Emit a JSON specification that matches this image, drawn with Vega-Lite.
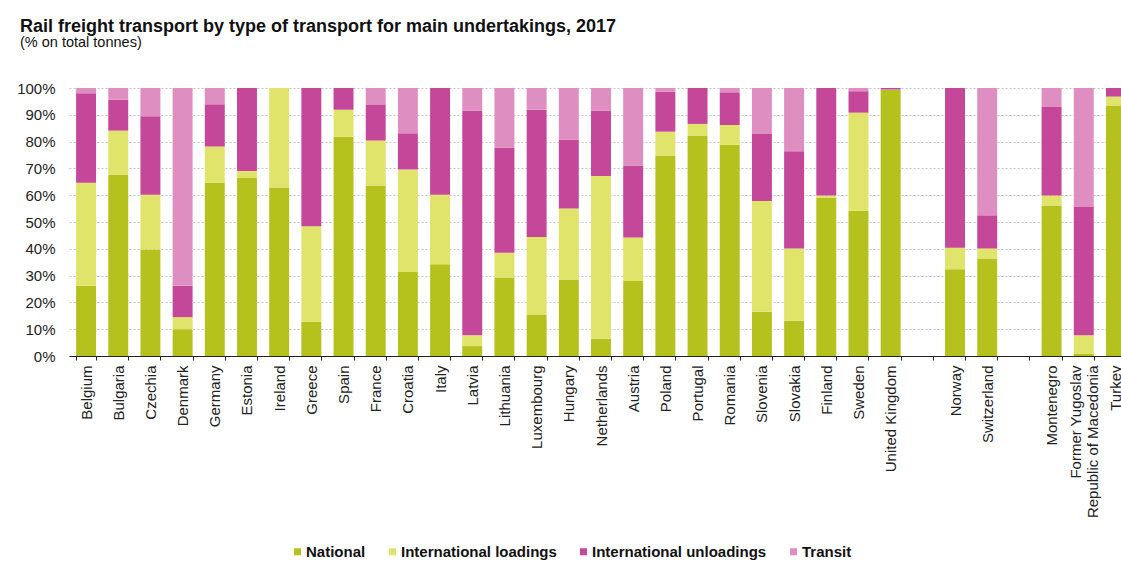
{
  "$schema": "https://vega.github.io/schema/vega-lite/v6.json",
  "width": 1052,
  "height": 268,
  "autosize": {"type": "none"},
  "padding": {"left": 69, "top": 88, "right": 0, "bottom": 215},
  "background": "white",
  "title": {
    "text": "Rail freight transport by type of transport for main undertakings, 2017",
    "subtitle": "(% on total tonnes)",
    "anchor": "start",
    "frame": "group",
    "dx": -49,
    "offset": 31.5,
    "font": "Liberation Sans",
    "fontSize": 18,
    "fontWeight": "bold",
    "color": "#111",
    "subtitleFont": "Liberation Sans",
    "subtitleFontSize": 14.5,
    "subtitleColor": "#111",
    "subtitlePadding": 0
  },
  "data": {
    "values": [
      {"country": "Belgium", "National": 26.2, "International loadings": 38.4, "International unloadings": 33.4, "Transit": 2.0},
      {"country": "Bulgaria", "National": 67.6, "International loadings": 16.5, "International unloadings": 11.6, "Transit": 4.3},
      {"country": "Czechia", "National": 39.7, "International loadings": 20.5, "International unloadings": 29.3, "Transit": 10.5},
      {"country": "Denmark", "National": 10.0, "International loadings": 4.5, "International unloadings": 11.7, "Transit": 73.8},
      {"country": "Germany", "National": 64.6, "International loadings": 13.6, "International unloadings": 15.7, "Transit": 6.1},
      {"country": "Estonia", "National": 66.4, "International loadings": 2.6, "International unloadings": 31.0, "Transit": 0},
      {"country": "Ireland", "National": 62.9, "International loadings": 37.1, "International unloadings": 0, "Transit": 0},
      {"country": "Greece", "National": 12.8, "International loadings": 35.6, "International unloadings": 51.6, "Transit": 0},
      {"country": "Spain", "National": 81.8, "International loadings": 10.1, "International unloadings": 8.1, "Transit": 0},
      {"country": "France", "National": 63.6, "International loadings": 16.8, "International unloadings": 13.5, "Transit": 6.1},
      {"country": "Croatia", "National": 31.3, "International loadings": 38.3, "International unloadings": 13.5, "Transit": 16.9},
      {"country": "Italy", "National": 34.2, "International loadings": 26.0, "International unloadings": 39.8, "Transit": 0},
      {"country": "Latvia", "National": 3.7, "International loadings": 4.0, "International unloadings": 83.9, "Transit": 8.4},
      {"country": "Lithuania", "National": 29.3, "International loadings": 9.2, "International unloadings": 39.3, "Transit": 22.2},
      {"country": "Luxembourg", "National": 15.5, "International loadings": 28.9, "International unloadings": 47.5, "Transit": 8.1},
      {"country": "Hungary", "National": 28.5, "International loadings": 26.5, "International unloadings": 25.8, "Transit": 19.2},
      {"country": "Netherlands", "National": 6.5, "International loadings": 60.7, "International unloadings": 24.4, "Transit": 8.4},
      {"country": "Austria", "National": 28.0, "International loadings": 16.2, "International unloadings": 26.9, "Transit": 28.9},
      {"country": "Poland", "National": 74.8, "International loadings": 8.9, "International unloadings": 14.9, "Transit": 1.4},
      {"country": "Portugal", "National": 82.3, "International loadings": 4.3, "International unloadings": 13.4, "Transit": 0},
      {"country": "Romania", "National": 78.8, "International loadings": 7.4, "International unloadings": 12.2, "Transit": 1.6},
      {"country": "Slovenia", "National": 16.5, "International loadings": 41.3, "International unloadings": 25.0, "Transit": 17.2},
      {"country": "Slovakia", "National": 13.2, "International loadings": 26.9, "International unloadings": 36.3, "Transit": 23.6},
      {"country": "Finland", "National": 59.1, "International loadings": 0.8, "International unloadings": 40.1, "Transit": 0},
      {"country": "Sweden", "National": 54.2, "International loadings": 36.6, "International unloadings": 8.0, "Transit": 1.2},
      {"country": "United Kingdom", "National": 99.3, "International loadings": 0.1, "International unloadings": 0.6, "Transit": 0},
      {"country": "Norway", "National": 32.4, "International loadings": 8.0, "International unloadings": 59.6, "Transit": 0},
      {"country": "Switzerland", "National": 36.4, "International loadings": 3.7, "International unloadings": 12.4, "Transit": 47.5},
      {"country": "Montenegro", "National": 56.2, "International loadings": 3.7, "International unloadings": 33.0, "Transit": 7.1},
      {"country": "Former Yugoslav Republic of Macedonia", "National": 0.7, "International loadings": 7.0, "International unloadings": 47.9, "Transit": 44.4},
      {"country": "Turkey", "National": 93.5, "International loadings": 3.3, "International unloadings": 3.2, "Transit": 0}
    ]
  },
  "transform": [
    {"fold": ["National", "International loadings", "International unloadings", "Transit"], "as": ["type", "value"]},
    {"calculate": "indexof(['National', 'International loadings', 'International unloadings', 'Transit'], datum.type)", "as": "stackOrder"}
  ],
  "mark": {"type": "bar", "clip": true},
  "encoding": {
    "x": {
      "field": "country",
      "type": "nominal",
      "sort": null,
      "scale": {
        "domain": ["Belgium", "Bulgaria", "Czechia", "Denmark", "Germany", "Estonia", "Ireland", "Greece", "Spain", "France", "Croatia", "Italy", "Latvia", "Lithuania", "Luxembourg", "Hungary", "Netherlands", "Austria", "Poland", "Portugal", "Romania", "Slovenia", "Slovakia", "Finland", "Sweden", "United Kingdom", " ", "Norway", "Switzerland", "  ", "Montenegro", "Former Yugoslav Republic of Macedonia", "Turkey"],
        "range": [0, 1064],
        "paddingInner": 0.38,
        "paddingOuter": 0.22
      },
      "axis": {
        "title": null,
        "labelAngle": -90,
        "labelAlign": "right",
        "labelBaseline": "middle",
        "labelFont": "Liberation Sans",
        "labelFontSize": 15,
        "labelColor": "#222",
        "labelLimit": 0,
        "labelPadding": 5,
        "labelOffset": {"condition": {"test": "datum.value == 'Former Yugoslav Republic of Macedonia'", "value": -8}, "value": 0},
        "labelExpr": "datum.value == 'Former Yugoslav Republic of Macedonia' ? ['Former Yugoslav', 'Republic of Macedonia'] : datum.label",
        "tickBand": "extent",
        "tickSize": 4,
        "tickColor": "#222",
        "domainColor": "#222",
        "grid": false
      }
    },
    "y": {
      "field": "value",
      "type": "quantitative",
      "stack": "zero",
      "scale": {"domain": [0, 100], "nice": false},
      "axis": {
        "title": null,
        "values": [0, 10, 20, 30, 40, 50, 60, 70, 80, 90, 100],
        "labelExpr": "datum.value + '%'",
        "labelFont": "Liberation Sans",
        "labelFontSize": 15,
        "labelColor": "#222",
        "labelPadding": 14,
        "ticks": false,
        "domain": false,
        "grid": true,
        "gridColor": "#c4c4c4",
        "gridDash": [2, 2],
        "gridWidth": 1
      }
    },
    "color": {
      "field": "type",
      "type": "nominal",
      "sort": ["National", "International loadings", "International unloadings", "Transit"],
      "scale": {
        "domain": ["National", "International loadings", "International unloadings", "Transit"],
        "range": ["#b5c21e", "#e1e46b", "#c4479a", "#de8ec0"]
      },
      "legend": {
        "title": null,
        "orient": "none",
        "direction": "horizontal",
        "legendX": 221,
        "legendY": 456,
        "symbolType": "square",
        "symbolSize": 49,
        "symbolStrokeWidth": 0,
        "labelFont": "Liberation Sans",
        "labelFontSize": 15,
        "labelFontWeight": "bold",
        "labelColor": "#111",
        "labelOffset": 1,
        "labelLimit": 0,
        "columnPadding": 19
      }
    },
    "order": {"field": "stackOrder", "type": "quantitative", "sort": "ascending"}
  },
  "config": {
    "view": {"stroke": null}
  }
}
